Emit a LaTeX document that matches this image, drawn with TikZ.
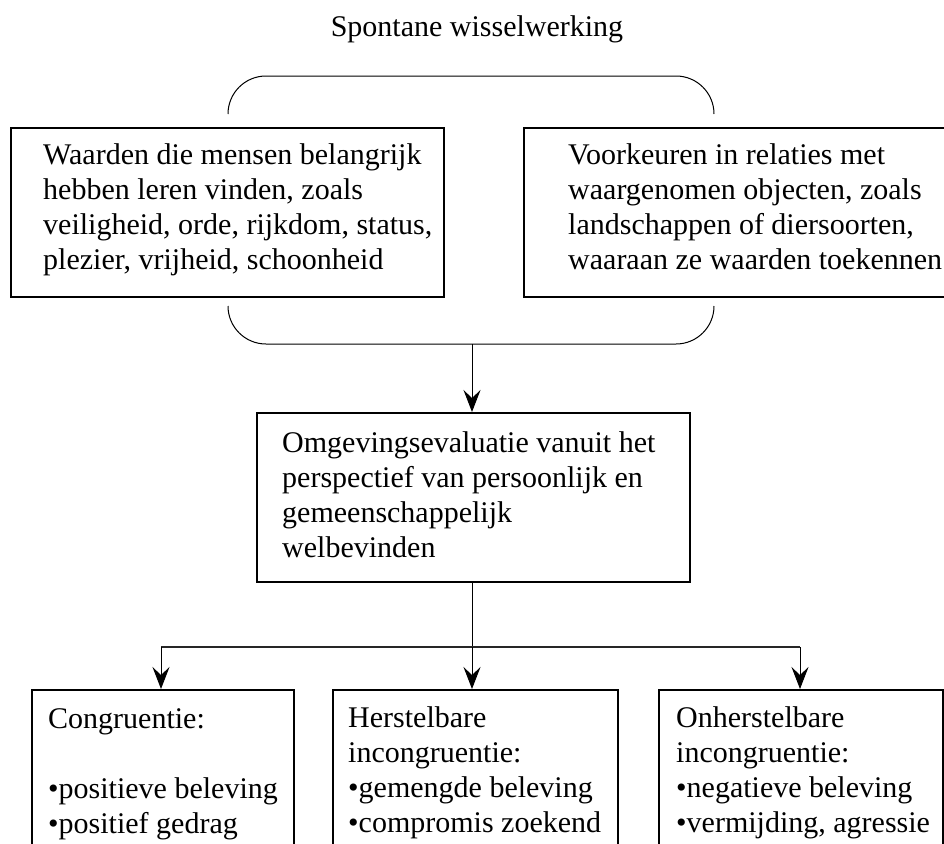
\documentclass[tikz,border=0pt]{standalone}
\usepackage{fontspec}
\setmainfont{Liberation Serif}
\usetikzlibrary{arrows.meta}
\begin{document}
\begin{tikzpicture}[x=1pt,y=-1pt,
  txt/.style={font=\fontsize{30}{35}\selectfont, inner sep=0pt, anchor=base west},
  ttl/.style={font=\fontsize{30}{35}\selectfont, inner sep=0pt, anchor=base},
  boxnode/.style={draw, line width=1.7pt, inner sep=0pt, anchor=north west},
  conn/.style={line width=1pt},
  bar/.style={line width=1.8pt, draw=black!85},
  arr/.style={line width=1pt, -{Stealth[length=22pt,width=17pt,inset=8pt]}},
]
\useasboundingbox (0,0) rectangle (944,843);
\clip (0,0) rectangle (944,843);
\fill[white] (0,0) rectangle (944,843);

% title
\node[ttl] (T) at (477,37) {Spontane wisselwerking};

% boxes
\node[boxnode, minimum width=433pt, minimum height=169pt] (A) at (10,127) {};
\node[boxnode, minimum width=460pt, minimum height=169pt] (B) at (523,127) {};
\node[boxnode, minimum width=433pt, minimum height=169pt] (M) at (256,412) {};
\node[boxnode, minimum width=262pt, minimum height=220pt] (C1) at (31,689) {};
\node[boxnode, minimum width=285pt, minimum height=220pt] (C2) at (332,689) {};
\node[boxnode, minimum width=284pt, minimum height=220pt] (C3) at (658,689) {};

% texts
\node[txt] (tA) at (43,164) {\parbox[t]{480pt}{Waarden die mensen belangrijk\\hebben leren vinden, zoals\\veiligheid, orde, rijkdom, status,\\plezier, vrijheid, schoonheid}};
\node[txt] (tB) at (568,164) {\parbox[t]{480pt}{Voorkeuren in relaties met\\waargenomen objecten, zoals\\landschappen of diersoorten,\\waaraan ze waarden toekennen}};
\node[txt] (tM) at (282,452) {\parbox[t]{480pt}{Omgevingsevaluatie vanuit het\\perspectief van persoonlijk en\\gemeenschappelijk\\welbevinden}};
\node[txt] (tC1) at (48,728) {\parbox[t]{300pt}{Congruentie:\\[35pt]•positieve beleving\\•positief gedrag}};
\node[txt] (tC2) at (348,727) {\parbox[t]{300pt}{Herstelbare\\incongruentie:\\•gemengde beleving\\•compromis zoekend}};
\node[txt] (tC3) at (676,727) {\parbox[t]{300pt}{Onherstelbare\\incongruentie:\\•negatieve beleving\\•vermijding, agressie}};

% brackets
\draw[conn, rounded corners=38pt] (228,114) -- (228,76) -- (714,76) -- (714,114);
\draw[conn, rounded corners=38pt] (228,306) -- (228,344) -- (714,344) -- (714,306);
\coordinate (bk) at (472,344);
\draw[arr] (bk) -- (bk |- M.north);

% tree
\coordinate (hl) at (161,647);
\coordinate (hm) at (472,647);
\coordinate (hr) at (800,647);
\draw[conn] (hm |- M.south) -- (hm);
\draw[bar] (hl) -- (hr);
\draw[arr] (hl) -- (hl |- C1.north);
\draw[arr] (hm) -- (hm |- C2.north);
\draw[arr] (hr) -- (hr |- C3.north);
\end{tikzpicture}
\end{document}
